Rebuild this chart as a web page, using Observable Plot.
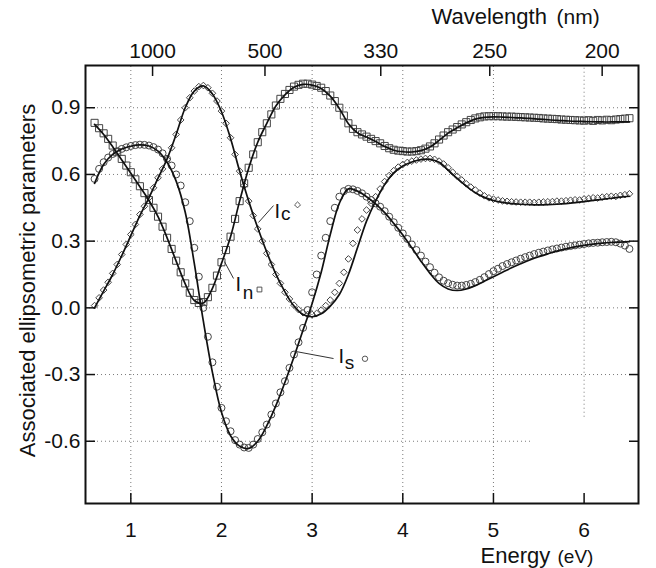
<!DOCTYPE html>
<html><head><meta charset="utf-8">
<script src="https://cdn.jsdelivr.net/npm/d3@7"></script>
<script src="https://cdn.jsdelivr.net/npm/@observablehq/plot@0.6"></script>
<style>body{margin:0;background:#fff} svg{display:block}</style>
</head><body><div id="chart"></div>
<script>
// Measured spectra (markers)
const energy = [0.60,0.65,0.70,0.75,0.80,0.85,0.90,0.95,1.00,1.05,1.10,1.15,1.20,1.25,1.30,1.35,1.40,1.45,1.50,1.55,1.60,1.65,1.70,1.75,1.80,1.85,1.90,1.95,2.00,2.05,2.10,2.15,2.20,2.25,2.30,2.35,2.40,2.45,2.50,2.55,2.60,2.65,2.70,2.75,2.80,2.85,2.90,2.95,3.00,3.05,3.10,3.15,3.20,3.25,3.30,3.35,3.40,3.45,3.50,3.55,3.60,3.65,3.70,3.75,3.80,3.85,3.90,3.95,4.00,4.05,4.10,4.15,4.20,4.25,4.30,4.35,4.40,4.45,4.50,4.55,4.60,4.65,4.70,4.75,4.80,4.85,4.90,4.95,5.00,5.05,5.10,5.15,5.20,5.25,5.30,5.35,5.40,5.45,5.50,5.55,5.60,5.65,5.70,5.75,5.80,5.85,5.90,5.95,6.00,6.05,6.10,6.15,6.20,6.25,6.30,6.35,6.40,6.45,6.50];
const In = [0.832,0.808,0.785,0.76,0.73,0.70,0.67,0.64,0.61,0.578,
0.547,0.516,0.485,0.45,0.41,0.365,0.315,0.265,0.212,0.16,
0.11,0.068,0.035,0.022,0.026,0.048,0.09,0.145,0.205,0.26,
0.32,0.40,0.48,0.56,0.63,0.69,0.745,0.79,0.83,0.87,
0.91,0.94,0.962,0.98,0.995,1.003,1.008,1.008,1.004,0.998,
0.99,0.975,0.955,0.93,0.90,0.865,0.83,0.805,0.79,0.78,
0.77,0.76,0.75,0.74,0.728,0.718,0.711,0.707,0.705,0.703,
0.703,0.705,0.709,0.716,0.726,0.74,0.757,0.775,0.79,0.802,
0.813,0.825,0.835,0.845,0.852,0.857,0.861,0.862,0.862,0.862,
0.861,0.86,0.86,0.859,0.858,0.857,0.856,0.855,0.854,0.852,
0.851,0.85,0.849,0.847,0.846,0.845,0.844,0.843,0.842,0.844,
0.841,0.845,0.843,0.846,0.844,0.847,0.849,0.851,0.853];
const Ic = [0.01,0.045,0.08,0.115,0.155,0.195,0.24,0.285,0.33,0.375,
0.42,0.457,0.495,0.54,0.585,0.625,0.667,0.72,0.78,0.845,
0.90,0.945,0.975,0.995,1.0,0.99,0.965,0.93,0.885,0.83,
0.765,0.69,0.615,0.55,0.48,0.415,0.355,0.30,0.245,0.195,
0.15,0.11,0.07,0.04,0.012,-0.008,-0.022,-0.03,-0.03,-0.025,
-0.01,0.01,0.035,0.07,0.11,0.16,0.22,0.29,0.35,0.40,
0.44,0.47,0.50,0.535,0.568,0.595,0.617,0.633,0.645,0.654,
0.66,0.665,0.669,0.672,0.672,0.668,0.66,0.647,0.63,0.61,
0.592,0.575,0.558,0.543,0.53,0.516,0.504,0.495,0.489,0.485,
0.481,0.479,0.477,0.476,0.475,0.475,0.475,0.474,0.475,0.476,
0.477,0.478,0.48,0.48,0.482,0.484,0.486,0.485,0.49,0.492,
0.495,0.494,0.498,0.5,0.502,0.501,0.506,0.509,0.513];
const Is = [0.58,0.625,0.655,0.676,0.692,0.705,0.715,0.722,0.728,0.732,
0.734,0.733,0.73,0.723,0.712,0.695,0.67,0.64,0.60,0.55,
0.475,0.39,0.27,0.14,0.0,-0.13,-0.245,-0.355,-0.45,-0.51,
-0.555,-0.595,-0.615,-0.628,-0.63,-0.615,-0.59,-0.56,-0.525,-0.48,
-0.43,-0.38,-0.33,-0.27,-0.21,-0.155,-0.09,-0.01,0.07,0.15,
0.235,0.315,0.39,0.45,0.50,0.525,0.535,0.533,0.526,0.515,
0.50,0.485,0.47,0.455,0.435,0.41,0.385,0.36,0.335,0.31,
0.285,0.26,0.235,0.208,0.183,0.158,0.137,0.122,0.111,0.104,
0.10,0.10,0.103,0.108,0.116,0.126,0.138,0.152,0.165,0.176,
0.188,0.197,0.205,0.213,0.221,0.228,0.235,0.242,0.248,0.253,
0.258,0.263,0.267,0.271,0.275,0.278,0.281,0.284,0.287,0.29,
0.292,0.293,0.295,0.296,0.297,0.295,0.289,0.28,0.265];

// Fitted curves (solid lines)
const fitEnergy = [0.6,0.7,0.8,0.9,1.0,1.1,1.2,1.3,1.4,1.5,1.6,1.7,1.8,1.9,2.0,2.1,2.2,2.3,2.4,2.5,2.6,2.7,2.8,2.9,3.0,3.1,3.2,3.3,3.4,3.5,3.6,3.7,3.8,3.9,4.0,4.1,4.2,4.3,4.4,4.5,4.6,4.7,4.8,4.9,5.0,5.1,5.2,5.3,5.4,5.5,5.6,5.7,5.8,5.9,6.0,6.1,6.2,6.3,6.4,6.5];
const InFit = [0.825,0.78,0.725,0.665,0.605,0.545,0.483,0.41,0.315,0.21,
0.108,0.033,0.022,0.088,0.2,0.32,0.48,0.628,0.745,0.83,
0.908,0.958,0.992,1.005,1.002,0.987,0.952,0.897,0.828,0.787,
0.768,0.748,0.726,0.709,0.702,0.701,0.707,0.723,0.753,0.786,
0.81,0.832,0.849,0.857,0.859,0.858,0.856,0.854,0.852,0.849,
0.846,0.843,0.841,0.839,0.838,0.837,0.836,0.836,0.836,0.836];
const IcFit = [0.0,0.075,0.15,0.235,0.325,0.415,0.495,0.583,0.67,0.78,
0.9,0.975,0.998,0.962,0.882,0.762,0.615,0.48,0.36,0.25,
0.152,0.072,0.008,-0.03,-0.04,-0.027,0.008,0.06,0.15,0.27,
0.39,0.48,0.555,0.607,0.638,0.656,0.667,0.668,0.655,0.62,
0.582,0.548,0.518,0.497,0.483,0.474,0.469,0.466,0.464,0.463,
0.464,0.466,0.469,0.473,0.478,0.483,0.488,0.493,0.498,0.502];
const IsFit = [0.56,0.645,0.69,0.714,0.727,0.733,0.728,0.705,0.655,0.57,
0.43,0.2,-0.06,-0.29,-0.47,-0.575,-0.622,-0.632,-0.6,-0.53,
-0.44,-0.335,-0.22,-0.1,0.02,0.16,0.33,0.47,0.535,0.525,
0.5,0.468,0.428,0.38,0.328,0.27,0.21,0.155,0.11,0.085,
0.078,0.085,0.1,0.12,0.14,0.16,0.18,0.198,0.215,0.23,
0.243,0.255,0.265,0.274,0.281,0.287,0.291,0.294,0.296,0.298];

// Axes
const xTicks = [1,2,3,4,5,6];
const yTicks = [-0.6,-0.3,0.0,0.3,0.6,0.9];
const wavelengthTicks = [1000,500,330,250,200];
const hc = 1239.84; // eV·nm

// Curve labels
const labelSub = ["c","n","s"];
const labelSymbol = ["diamond2","square","circle"];
const labelE = [2.585, 2.155, 3.291], labelV = [0.402, 0.078, -0.246];
const subE = [2.657, 2.235, 3.36], subV = [0.395, 0.042, -0.273];
const markE = [2.839, 2.419, 3.583], markV = [0.463, 0.0825, -0.229];
const leadE1 = [2.574, 2.133, 3.236], leadV1 = [0.460, 0.132, -0.228];
const leadE2 = [2.408, 2.033, 2.816], leadV2 = [0.384, 0.208, -0.196];

const rows = (E, V) => V.map((v, i) => ({E: E[i], v}));
const labels = labelSub.map((s, i) => ({s, sym: labelSymbol[i], E: labelE[i], v: labelV[i], sE: subE[i], sV: subV[i], mE: markE[i], mV: markV[i], e1: leadE1[i], v1: leadV1[i], e2: leadE2[i], v2: leadV2[i]}));

const font = "'Liberation Sans', Arial, sans-serif";
const grid = {stroke: "#7a7a7a", strokeWidth: 1, strokeDasharray: "1,3"};
const markerStyle = {fill: "none", stroke: "#444", strokeWidth: 1};

const chart = Plot.plot({
  width: 656, height: 568,
  marginLeft: 85, marginRight: 18, marginTop: 65, marginBottom: 65,
  x: {domain: [0.5, 6.6]},
  y: {domain: [-0.88, 1.09]},
  style: {fontFamily: font, fontSize: "21px", background: "white", color: "#111"},
  marks: [
    Plot.ruleX(xTicks, {x: d => d, y1: d => d === 6 ? -0.492 : -0.88, y2: 1.09, ...grid}),
    Plot.ruleY(yTicks, {y: d => d, x1: 0.5, x2: d => d === -0.6 ? 5.41 : 6.6, ...grid}),
    Plot.dot(rows(energy, In), {x: "E", y: "v", symbol: "square", r: 4.0, ...markerStyle}),
    Plot.dot(rows(energy, Ic), {x: "E", y: "v", symbol: "diamond2", r: 3.0, ...markerStyle}),
    Plot.dot(rows(energy, Is), {x: "E", y: "v", symbol: "circle", r: 3.5, ...markerStyle}),
    Plot.line(rows(fitEnergy, InFit), {x: "E", y: "v", curve: "catmull-rom", stroke: "#111", strokeWidth: 1.7}),
    Plot.line(rows(fitEnergy, IcFit), {x: "E", y: "v", curve: "catmull-rom", stroke: "#111", strokeWidth: 1.7}),
    Plot.line(rows(fitEnergy, IsFit), {x: "E", y: "v", curve: "catmull-rom", stroke: "#111", strokeWidth: 1.7}),
    // labels
    Plot.link(labels, {x1: "e1", y1: "v1", x2: "e2", y2: "v2", stroke: "#333", strokeWidth: 1}),
    Plot.text(labels, {x: "E", y: "v", text: () => "I", textAnchor: "start", lineAnchor: "bottom", fontSize: 20, fill: "#111"}),
    Plot.text(labels, {x: "sE", y: "sV", text: "s", textAnchor: "start", lineAnchor: "bottom", fontSize: 19, fill: "#111"}),
    Plot.dot(labels, {x: "mE", y: "mV", symbol: "sym", r: 2.7, fill: "none", stroke: "#444", strokeWidth: 0.9}),
    // axes
    Plot.axisX(xTicks, {anchor: "bottom", tickSize: -10, tickPadding: 29, strokeWidth: 1.5, fontSize: 21, tickFormat: d => String(d), label: null}),
    Plot.axisX(wavelengthTicks.map(l => hc / l), {anchor: "top", tickSize: -10, tickPadding: 18, strokeWidth: 1.5, fontSize: 21, tickFormat: d => String(Math.round(hc / d)), label: null}),
    Plot.axisY(yTicks, {anchor: "left", tickSize: -10, tickPadding: 15, strokeWidth: 1.5, fontSize: 21, tickFormat: d => d.toFixed(1), label: null}),
    Plot.axisY(yTicks, {anchor: "right", tickSize: -10, strokeWidth: 1.5, tickFormat: () => "", label: null}),
    Plot.frame({stroke: "#111", strokeWidth: 2}),
    // titles
    Plot.text(["Associated ellipsometric parameters"], {frameAnchor: "left", dx: -58, dy: -4, rotate: -90, textAnchor: "middle", lineAnchor: "middle", fontSize: 22, fill: "#111"}),
    Plot.text(["Wavelength"], {frameAnchor: "top-left", dx: 346, dy: -42, textAnchor: "start", lineAnchor: "bottom", fontSize: 22, fill: "#111"}),
    Plot.text(["(nm)"], {frameAnchor: "top-left", dx: 471, dy: -42, textAnchor: "start", lineAnchor: "bottom", fontSize: 21, fill: "#111"}),
    Plot.text(["Energy"], {frameAnchor: "bottom-left", dx: 395, dy: 59, textAnchor: "start", lineAnchor: "bottom", fontSize: 22, fill: "#111"}),
    Plot.text(["(eV)"], {frameAnchor: "bottom-left", dx: 472, dy: 59, textAnchor: "start", lineAnchor: "bottom", fontSize: 19, fill: "#111"})
  ]
});
document.getElementById("chart").appendChild(chart);
</script>
</body></html>
